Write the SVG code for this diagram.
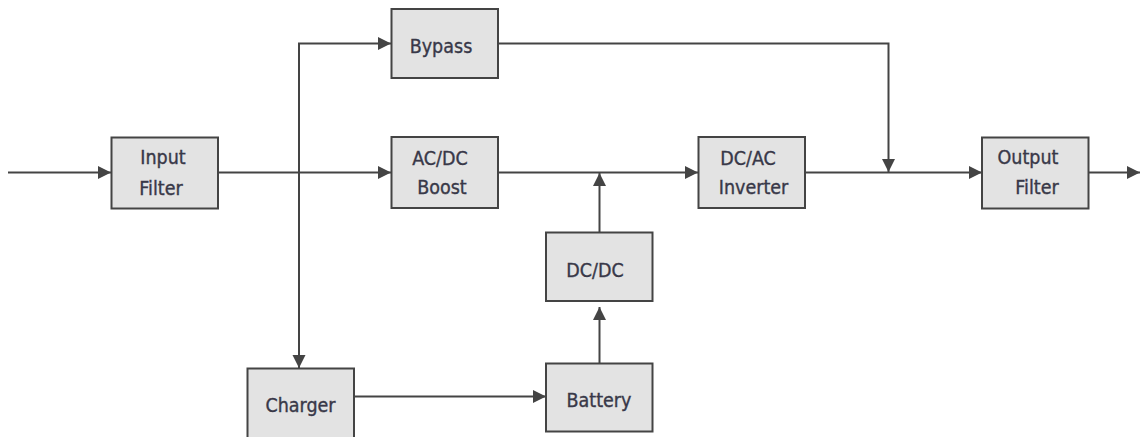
<svg xmlns="http://www.w3.org/2000/svg" width="1140" height="437" viewBox="0 0 1140 437">
<style>
.box{fill:#e3e3e3;stroke:#444;stroke-width:2}
.wire{fill:none;stroke:#444;stroke-width:2}
text{font-family:"DejaVu Sans Condensed","DejaVu Sans",sans-serif;font-size:19.5px;fill:#383848;stroke:#383848;stroke-width:0.35;text-anchor:middle}
</style>
<defs>
<marker id="ah" markerUnits="userSpaceOnUse" markerWidth="14" markerHeight="14" refX="13" refY="6.5" orient="auto">
<path d="M0,0 L13,6.5 L0,13 z" fill="#444"/>
</marker>
</defs>
<rect width="1140" height="437" fill="#fff"/>
<g id="connectors">
<line class="wire" x1="8" y1="172.5" x2="111" y2="172.5" marker-end="url(#ah)"/>
<line class="wire" x1="218" y1="172.5" x2="391" y2="172.5" marker-end="url(#ah)"/>
<polyline class="wire" points="299,368 299,43.5 391,43.5" marker-end="url(#ah)"/>
<line class="wire" x1="299" y1="172" x2="299" y2="368" marker-end="url(#ah)"/>
<line class="wire" x1="498" y1="172.5" x2="698" y2="172.5" marker-end="url(#ah)"/>
<line class="wire" x1="599.5" y1="232" x2="599.5" y2="173" marker-end="url(#ah)"/>
<line class="wire" x1="599.5" y1="363" x2="599.5" y2="307" marker-end="url(#ah)"/>
<line class="wire" x1="354" y1="396.5" x2="546" y2="396.5" marker-end="url(#ah)"/>
<polyline class="wire" points="498,43.5 888.5,43.5 888.5,172" marker-end="url(#ah)"/>
<line class="wire" x1="805" y1="172.5" x2="982" y2="172.5" marker-end="url(#ah)"/>
<line class="wire" x1="1089" y1="172.5" x2="1140" y2="172.5" marker-end="url(#ah)"/>
</g>
<g id="input-filter">
<rect class="box" x="111.5" y="137.5" width="106.5" height="71"/>
<text x="163" y="164">Input</text>
<text x="161" y="195">Filter</text>
</g>
<g id="bypass">
<rect class="box" x="391.5" y="9" width="106.5" height="69"/>
<text x="441" y="52.5">Bypass</text>
</g>
<g id="acdc-boost">
<rect class="box" x="391.5" y="137" width="106.5" height="71"/>
<text x="440" y="165">AC/DC</text>
<text x="442" y="194">Boost</text>
</g>
<g id="dcac-inverter">
<rect class="box" x="698.5" y="137" width="106.5" height="71"/>
<text x="748" y="165">DC/AC</text>
<text x="753.5" y="194">Inverter</text>
</g>
<g id="output-filter">
<rect class="box" x="982" y="137.5" width="106.5" height="71"/>
<text x="1028" y="164">Output</text>
<text x="1037" y="194">Filter</text>
</g>
<g id="dcdc">
<rect class="box" x="546" y="232.5" width="106.5" height="68.5"/>
<text x="595" y="276.5">DC/DC</text>
</g>
<g id="charger">
<rect class="box" x="247.5" y="368.5" width="106.5" height="72"/>
<text x="300.5" y="411.5">Charger</text>
</g>
<g id="battery">
<rect class="box" x="546" y="363.5" width="106.5" height="68"/>
<text x="599" y="406.5">Battery</text>
</g>
</svg>
